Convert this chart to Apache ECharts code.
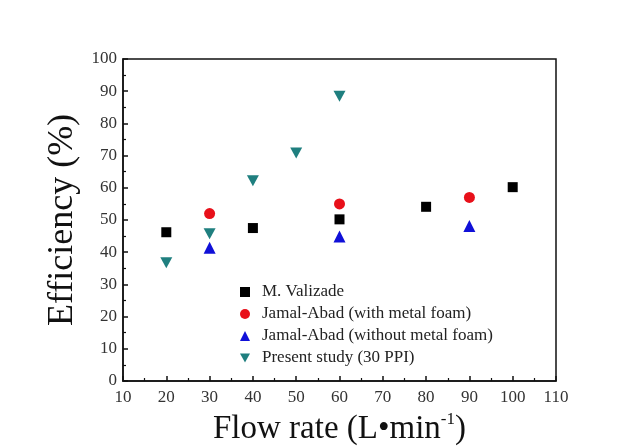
<!DOCTYPE html>
<html>
<head>
<meta charset="utf-8">
<script src="https://cdn.jsdelivr.net/npm/echarts@6/dist/echarts.min.js"></script>
<style>
  html, body { margin: 0; padding: 0; background: #ffffff; }
  #chart { width: 634px; height: 448px; }
</style>
</head>
<body>
<div id="chart"></div>
<script>
// Collector efficiency versus flow rate: literature data and present study
const seriesNames = [
  'M. Valizade',
  'Jamal-Abad (with metal foam)',
  'Jamal-Abad (without metal foam)',
  'Present study (30 PPI)'
];
const valizadeFlow = [20, 40, 60, 80, 100];
const valizadeEff = [46.2, 47.5, 50.2, 54.1, 60.2];
const jamalFoamFlow = [30, 60, 90];
const jamalFoamEff = [52.0, 55.0, 57.0];
const jamalNoFoamFlow = [30, 60, 90];
const jamalNoFoamEff = [41.4, 44.9, 48.1];
const presentFlow = [20, 30, 40, 50, 60];
const presentEff = [36.7, 45.7, 62.2, 70.8, 88.4];

const xTicks = { min: 10, max: 110, step: 10 };
const yTicks = { min: 0, max: 100, step: 10 };

const pairs = (xs, ys) => xs.map((x, i) => [x, ys[i]]);
const downTriangle = 'path://M0,0 L10,0 L5,9 Z';
const serif = '"Liberation Serif", "DejaVu Serif", serif';

const chart = echarts.init(document.getElementById('chart'), null, { renderer: 'canvas' });

const axisCommon = {
  axisLine: { show: true, onZero: false, lineStyle: { color: '#111', width: 1.5 } },
  axisTick: { show: true, inside: true, length: 5, lineStyle: { color: '#111', width: 1.5 } },
  minorTick: { show: true, splitNumber: 2, length: 3, lineStyle: { color: '#111', width: 1.2 } },
  splitLine: { show: false },
  axisLabel: { color: '#333', fontFamily: serif, fontSize: 17 },
  nameTextStyle: { color: '#111', fontFamily: serif, fontSize: 36 }
};

chart.setOption({
  backgroundColor: '#ffffff',
  animation: false,
  grid: {
    left: 123, right: 78, top: 59, bottom: 67,
    outerBoundsMode: 'none', containLabel: false,
    show: true, borderColor: '#111', borderWidth: 1.5, backgroundColor: '#ffffff'
  },
  legend: {
    orient: 'vertical',
    left: 235, top: 278,
    itemGap: 4, itemWidth: 10, itemHeight: 10,
    textStyle: { fontFamily: serif, fontSize: 17, color: '#222', lineHeight: 18, padding: [0, 0, 0, 7] },
    data: [
      { name: seriesNames[0], icon: 'rect' },
      { name: seriesNames[1], icon: 'circle' },
      { name: seriesNames[2], icon: 'triangle' },
      { name: seriesNames[3], icon: downTriangle }
    ]
  },
  xAxis: Object.assign({}, axisCommon, {
    type: 'value',
    min: xTicks.min, max: xTicks.max, interval: xTicks.step,
    name: '{a|Flow rate (L•min}{s|-1}{a|)}',
    nameLocation: 'middle', nameGap: 29,
    nameTextStyle: {
      rich: {
        a: { fontFamily: serif, fontSize: 33, color: '#111' },
        s: { fontFamily: serif, fontSize: 17, color: '#111', padding: [0, 0, 20, 0] }
      }
    },
    axisLabel: Object.assign({}, axisCommon.axisLabel, { margin: 8 })
  }),
  yAxis: Object.assign({}, axisCommon, {
    type: 'value',
    min: yTicks.min, max: yTicks.max, interval: yTicks.step,
    name: 'Efficiency (%)',
    nameLocation: 'middle', nameGap: 37, nameRotate: 90,
    axisLabel: Object.assign({}, axisCommon.axisLabel, { margin: 6 })
  }),
  series: [
    { name: seriesNames[0], type: 'scatter', symbol: 'rect', symbolSize: 10,
      itemStyle: { color: '#000000', opacity: 1 }, data: pairs(valizadeFlow, valizadeEff) },
    { name: seriesNames[1], type: 'scatter', symbol: 'circle', symbolSize: 11,
      itemStyle: { color: '#e8101a', opacity: 1 }, data: pairs(jamalFoamFlow, jamalFoamEff) },
    { name: seriesNames[2], type: 'scatter', symbol: 'triangle', symbolSize: 12,
      itemStyle: { color: '#1010d8', opacity: 1 }, data: pairs(jamalNoFoamFlow, jamalNoFoamEff) },
    { name: seriesNames[3], type: 'scatter', symbol: downTriangle, symbolSize: [12, 11],
      itemStyle: { color: '#1f7f7f', opacity: 1 }, data: pairs(presentFlow, presentEff) }
  ]
});
</script>
</body>
</html>
